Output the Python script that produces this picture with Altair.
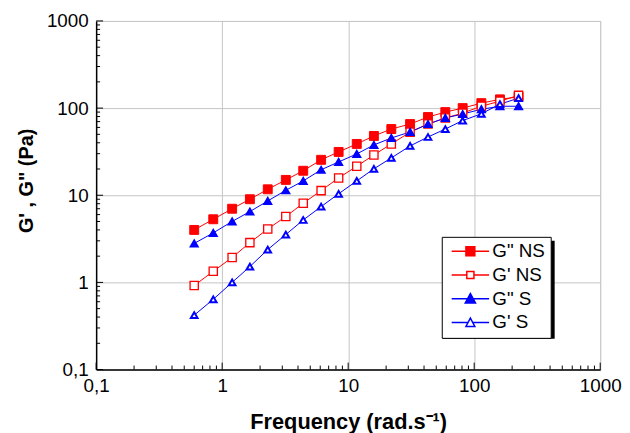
import altair as alt
import pandas as pd

# ---- data ----
freq = [0.6, 0.85, 1.2, 1.66, 2.3, 3.2, 4.4, 6.1, 8.4, 11.7, 16, 22, 31, 43, 59, 81, 114, 160, 225]
g2_ns = [4.0, 5.3, 7.0, 9.0, 11.7, 15.0, 19.1, 25.5, 31.4, 38.8, 47.9, 57.5, 65.6, 79, 90, 100, 114, 126, 135]
g1_ns = [0.92, 1.34, 1.93, 2.86, 4.1, 5.7, 8.1, 11.3, 15.8, 21.5, 29, 38.8, 53, 65.6, 77, 87.6, 105, 120, 140]
g2_s = [2.8, 3.7, 5.0, 6.5, 8.6, 11.4, 14.6, 19.6, 24.1, 29.8, 37.8, 45.4, 53.2, 65.6, 77, 85.5, 97, 105, 105]
g1_s = [0.42, 0.64, 1.0, 1.52, 2.38, 3.54, 5.2, 7.4, 10.4, 14.6, 20.1, 26.8, 36.8, 46.6, 57.5, 72, 86, 111, 130]

series_names = ['G" NS', "G' NS", 'G" S', "G' S"]
series_values = [g2_ns, g1_ns, g2_s, g1_s]
series_stroke = ["#ff0000", "#ff0000", "#0000ff", "#0000ff"]
series_fill = ["#ff0000", "#ffffff", "#0000ff", "#ffffff"]
series_shape = ["square", "square", "triangle-up", "triangle-up"]
series_size = [81, 45, 100, 60]
series_sw = [1, 2, 1, 2]

decade_values = [0.1, 1, 10, 100, 1000]
decade_labels = ["0,1", "1", "10", "100", "1000"]
minor_values = [m * 10.0 ** e for e in range(-1, 3) for m in range(2, 10)]
x_title = "Frequency (rad.s\u207b\u00b9)"
y_title = "G' , G\" (Pa)"

# ---- build tables ----
rows = []
for name, vals in zip(series_names, series_values):
    for f, v in zip(freq, vals):
        rows.append({"freq": f, "value": v, "series": name})
df = pd.DataFrame(rows)
minor_df = pd.DataFrame({"t": minor_values})
major_df = pd.DataFrame({"t": decade_values})

label_expr = " : ".join(
    f"abs(datum.value - {v}) < {v * 1e-6} ? '{l}'" for v, l in zip(decade_values, decade_labels)
) + " : ''"

W, H = 509, 352
FONT = "Liberation Sans"

xs = alt.Scale(type="log", domain=[0.1, 1000], nice=False)
ys = alt.Scale(type="log", domain=[0.1, 1000], nice=False)

x_axis = alt.Axis(values=decade_values, labelExpr=label_expr, grid=True, ticks=False,
                  domain=True, domainColor="black", domainWidth=1.5,
                  gridColor="#c4c4c4", gridWidth=1, labelFlush=False, labelOverlap=False,
                  labelFont=FONT, labelFontSize=19, labelColor="black", labelPadding=7,
                  title=x_title, titleFont=FONT, titleFontSize=22, titleFontWeight="bold",
                  titleColor="black", titlePadding=17, orient="bottom")
y_axis = alt.Axis(values=decade_values, labelExpr=label_expr, grid=True, ticks=False,
                  domain=True, domainColor="black", domainWidth=1.5,
                  gridColor="#c4c4c4", gridWidth=1, labelFlush=False, labelOverlap=False,
                  labelFont=FONT, labelFontSize=19, labelColor="black", labelPadding=8,
                  title=y_title, titleFont=FONT, titleFontSize=20, titleFontWeight="bold",
                  titleColor="black", titlePadding=10, titleY=161, orient="left")

base = alt.Chart(df)

lines = base.mark_line(strokeWidth=1).encode(
    x=alt.X("freq:Q", scale=xs, axis=x_axis),
    y=alt.Y("value:Q", scale=ys, axis=y_axis),
    stroke=alt.Stroke("series:N", scale=alt.Scale(domain=series_names, range=series_stroke), legend=None),
    detail="series:N",
)

points = base.mark_point(opacity=1).encode(
    x=alt.X("freq:Q", scale=xs),
    y=alt.Y("value:Q", scale=ys),
    stroke=alt.Stroke("series:N", scale=alt.Scale(domain=series_names, range=series_stroke), legend=None),
    fill=alt.Fill("series:N", scale=alt.Scale(domain=series_names, range=series_fill), legend=None),
    shape=alt.Shape("series:N", scale=alt.Scale(domain=series_names, range=series_shape), legend=None),
    size=alt.Size("series:N", scale=alt.Scale(domain=series_names, range=series_size), legend=None),
    strokeWidth=alt.StrokeWidth("series:N", scale=alt.Scale(domain=series_names, range=series_sw), legend=None),
)


def inner_ticks(data, length):
    bx = alt.Chart(data).mark_rule(color="black", strokeWidth=1).encode(
        x=alt.X("t:Q", scale=xs), y=alt.value(H), y2=alt.value(H - length))
    ly = alt.Chart(data).mark_rule(color="black", strokeWidth=1).encode(
        y=alt.Y("t:Q", scale=ys), x=alt.value(0), x2=alt.value(length))
    return [bx, ly]


tick_layers = inner_ticks(minor_df, 4) + inner_ticks(major_df, 7)

# legend symbols: line with marker (custom paths, unit = half symbol width)
cx = 3.2
leg_paths = [
    f"M-1,0H7.4M{cx-1},-1H{cx+1}V1H{cx-1}Z",
    f"M-1,0H{cx-0.8}M{cx+0.8},0H7.4M{cx-0.8},-0.8H{cx+0.8}V0.8H{cx-0.8}Z",
    f"M-1,0H7.4M{cx-1.15},0.95H{cx+1.15}L{cx},-1.15Z",
    f"M-1,0H{cx-0.5}M{cx+0.5},0H7.4M{cx-1},0.9H{cx+1}L{cx},-1Z",
]

shadow = alt.Chart(pd.DataFrame({"k": [0]})).mark_rect(color="black").encode(
    x=alt.value(350), x2=alt.value(463), y=alt.value(222), y2=alt.value(321)
)

legend_layer = base.transform_filter("false").mark_point(opacity=1).encode(
    x=alt.X("freq:Q", scale=xs),
    y=alt.Y("value:Q", scale=ys),
    stroke=alt.Stroke("series:N", scale=alt.Scale(domain=series_names, range=series_stroke), legend=alt.Legend(
        title=None, orient="none", legendX=349, legendY=218, fillColor="white", strokeColor="black",
        padding=5, labelFont=FONT, labelFontSize=19, labelColor="black", labelLimit=0,
        symbolSize=81, symbolStrokeWidth=1.5, rowPadding=4, labelOffset=27)),
    fill=alt.Fill("series:N", scale=alt.Scale(domain=series_names, range=series_fill)),
    shape=alt.Shape("series:N", scale=alt.Scale(domain=series_names, range=leg_paths)),
)

chart = alt.layer(lines, points, *tick_layers, shadow, legend_layer).resolve_scale(
    stroke="independent", fill="independent", shape="independent"
).properties(
    width=W, height=H,
    autosize=alt.AutoSizeParams(type="none"),
    padding={"left": 89, "top": 11, "right": 22, "bottom": 62},
).configure_view(stroke="#444", strokeWidth=1.5).configure(background="white")

chart.save("out.html", embed_options={"renderer": "svg", "actions": False})
